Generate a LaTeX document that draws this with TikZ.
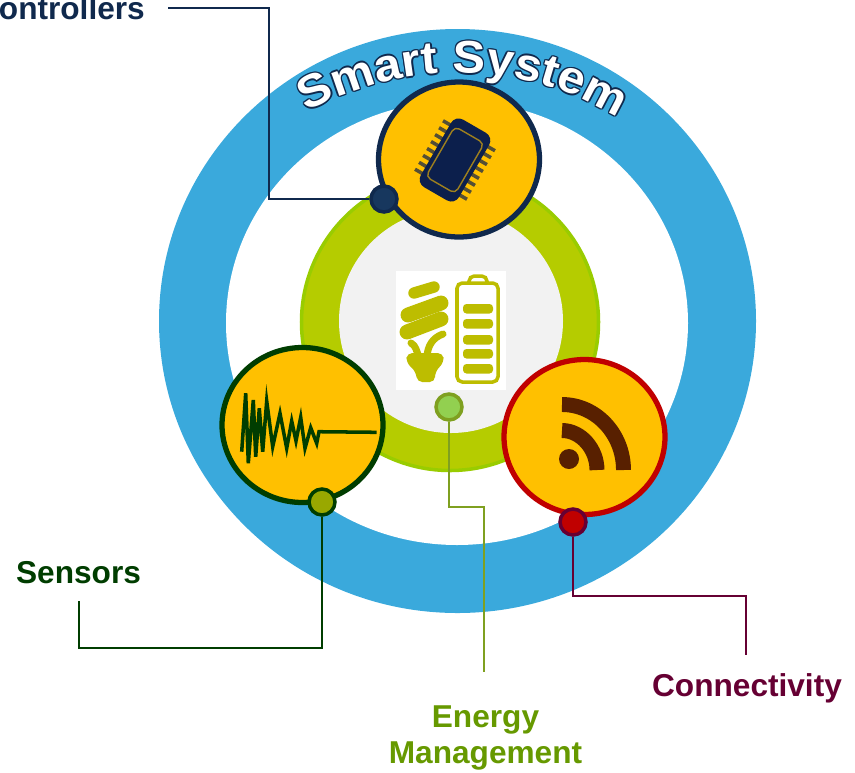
\documentclass[tikz,border=0pt]{standalone}
\usepackage{fontspec}
\usepackage{tikz}
\usetikzlibrary{decorations.text, shapes.geometric}
\setmainfont{Liberation Sans}
\newfontfamily\smartfont[FakeStretch=1.07]{Liberation Sans Bold}

\definecolor{ringblue}{HTML}{3AA9DC}
\definecolor{ringgreen}{HTML}{B5CC00}
\definecolor{edgegreen}{HTML}{99CC00}
\definecolor{coregrey}{HTML}{F2F2F2}
\definecolor{hubyellow}{HTML}{FFC000}
\definecolor{ctrlnavy}{HTML}{10294D}
\definecolor{ctrldot}{HTML}{17375E}
\definecolor{chipnavy}{HTML}{0C1F4C}
\definecolor{sensgreen}{HTML}{003D00}
\definecolor{sensdot}{HTML}{99A800}
\definecolor{connred}{HTML}{C00000}
\definecolor{connplum}{HTML}{660033}
\definecolor{enertext}{HTML}{669900}
\definecolor{enerline}{HTML}{7FA020}
\definecolor{enerdot}{HTML}{92D050}
\definecolor{iconolive}{HTML}{BDBD00}
\definecolor{rssbrown}{HTML}{582000}

\tikzset{
	hub/.style={ellipse, fill=hubyellow, line width=3pt, minimum width=3.22cm, minimum height=3.1cm, inner sep=0pt},
	knob/.style={circle, line width=2pt, minimum size=0.52cm, inner sep=0pt},
	lead/.style={line width=0.9pt},
	caption/.style={font=\fontsize{18}{21}\selectfont\bfseries, align=center}
}

\begin{document}
\begin{tikzpicture}[x=0.02cm, y=-0.02cm]
	\useasboundingbox (0,0) rectangle (855,772);

	% rings
	\fill [ringblue] (457.5,321) ellipse [x radius=298.5, y radius=292];
	\fill [white] (457,323) ellipse [x radius=231, y radius=222];
	\filldraw [fill=ringgreen, draw=edgegreen, line width=2pt] (450,322) circle [radius=148.5];
	\fill [coregrey] (451,321) circle [radius=112];

	% bulb and battery
	\fill [white] (396,271) rectangle (506,390);
	\draw [iconolive, line width=6.5pt, line cap=round] (414,293) -- (434,287);
	\draw [iconolive, line width=8.5pt, line cap=round] (408,315) -- (441,303);
	\draw [iconolive, line width=8.5pt, line cap=round] (407,332) -- (441,319);
	\fill [iconolive, rounded corners=3pt] (407,353) -- (443,353) -- (444,362) -- (435,372) -- (435,382) -- (417,382) -- (416,372) -- (406,362) -- cycle;
	\draw [iconolive, line width=4pt, line cap=round] (411,343) .. controls (416,346) and (416,350) .. (419,357);
	\draw [iconolive, line width=4pt, line cap=round] (443,334) .. controls (432,338) and (428,346) .. (427,356);
	\draw [iconolive, line width=2pt, rounded corners=3pt] (457,283) rectangle (498,382);
	\draw [iconolive, line width=2pt, rounded corners=3pt] (469,283) -- (469,276) -- (487,276) -- (487,283);
	\foreach \top in {304,319,335,349,364}
		\fill [iconolive, rounded corners=2pt] (463,\top) rectangle (493,\top+9.5);

	% captions
	\node [caption, text=ctrlnavy, anchor=east] (ctrlLabel) at (151,8) {Controllers};
	\node [caption, text=sensgreen] (sensLabel) at (78.5,573) {Sensors};
	\node [caption, text=enertext] (enerLabel) at (485.5,738) {Energy\\Management};
	\node [caption, text=connplum] (connLabel) at (747,688) {Connectivity};

	\coordinate (ctrlEnd) at (168,8);
	\coordinate (sensEnd) at (79,601);
	\coordinate (enerEnd) at (484,672);
	\coordinate (connEnd) at (746,655);

	% hubs and knobs
	\node [hub, draw=ctrlnavy] (ctrlHub) at (459,159.5) {};
	\node [hub, draw=sensgreen] (sensHub) at (302.5,425) {};
	\node [hub, draw=connred] (connHub) at (584.5,437) {};

	\node [knob, draw=ctrlnavy, fill=ctrldot] (ctrlKnob) at (384,199) {};
	\node [knob, draw=sensgreen, fill=sensdot] (sensKnob) at (322,502) {};
	\node [knob, draw=enerline, fill=enerdot] (enerKnob) at (449,407) {};
	\node [knob, draw=connplum, fill=connred] (connKnob) at (573,522) {};

	% leads
	\draw [lead, ctrlnavy] (ctrlEnd) -- (269,8) |- (ctrlKnob);
	\draw [lead, sensgreen] (sensEnd) -- (79,648) -| (sensKnob);
	\draw [lead, enerline] (enerKnob) |- (484,507) -- (enerEnd);
	\draw [lead, connplum] (connKnob) |- (746,596) -- (connEnd);

	% chip
	\begin{scope}[shift={(455,160)}, rotate=-30]
		\foreach \n in {-3.5,-2.5,...,3.5} {
			\draw [chipnavy!70!hubyellow, line width=2pt] (-30,\n*8) -- (30,\n*8);
		}
		\fill [chipnavy, rounded corners=5pt] (-22,-39) rectangle (22,39);
		\draw [hubyellow!60!chipnavy, line width=0.8pt, rounded corners=3pt] (-17,-29) rectangle (17,29);
	\end{scope}

	% wave
	\draw [sensgreen, line width=2pt] (241.7,451.7) -- (245.7,393.3) -- (248.3,463.3) -- (253.3,400) -- (255.7,456.7) -- (259.3,408.3) -- (262.7,451.7) -- (266.7,401) -- (272.7,446.7) -- (280,413.3) -- (286.7,448.3) -- (291.7,421) -- (296,441) -- (300.7,417.3) -- (305,448.3) -- (310.7,427.7) -- (316.7,443.3) -- (319,431.7) -- (376.7,432.3);

	% feed
	\fill [rssbrown] (569,459) circle [radius=10];
	\draw [rssbrown, line width=8.5pt] (562,430.5) .. controls (581,430.5) and (597,449) .. (597,470);
	\draw [rssbrown, line width=8.5pt] (562,404.5) .. controls (596,404.5) and (623.5,434) .. (623.5,470);

	% arc title
	\foreach \dx/\dy in {-1.4/0,1.4/0,0/-1.4,0/1.4,-1/-1,1/-1,-1/1,1/1} {
		\path [shift={(\dx,\dy)}, decorate, decoration={text along path, text align=center,
			text color=ctrlnavy, text={|\fontsize{26}{26}\smartfont|Smart System}}]
			(302,115) .. controls (400,58) and (525,58) .. (623,121);
	}
	\path [decorate, decoration={text along path, text align=center,
		text color=white, text={|\fontsize{26}{26}\smartfont|Smart System}}]
		(302,115) .. controls (400,58) and (525,58) .. (623,121);
\end{tikzpicture}
\end{document}
